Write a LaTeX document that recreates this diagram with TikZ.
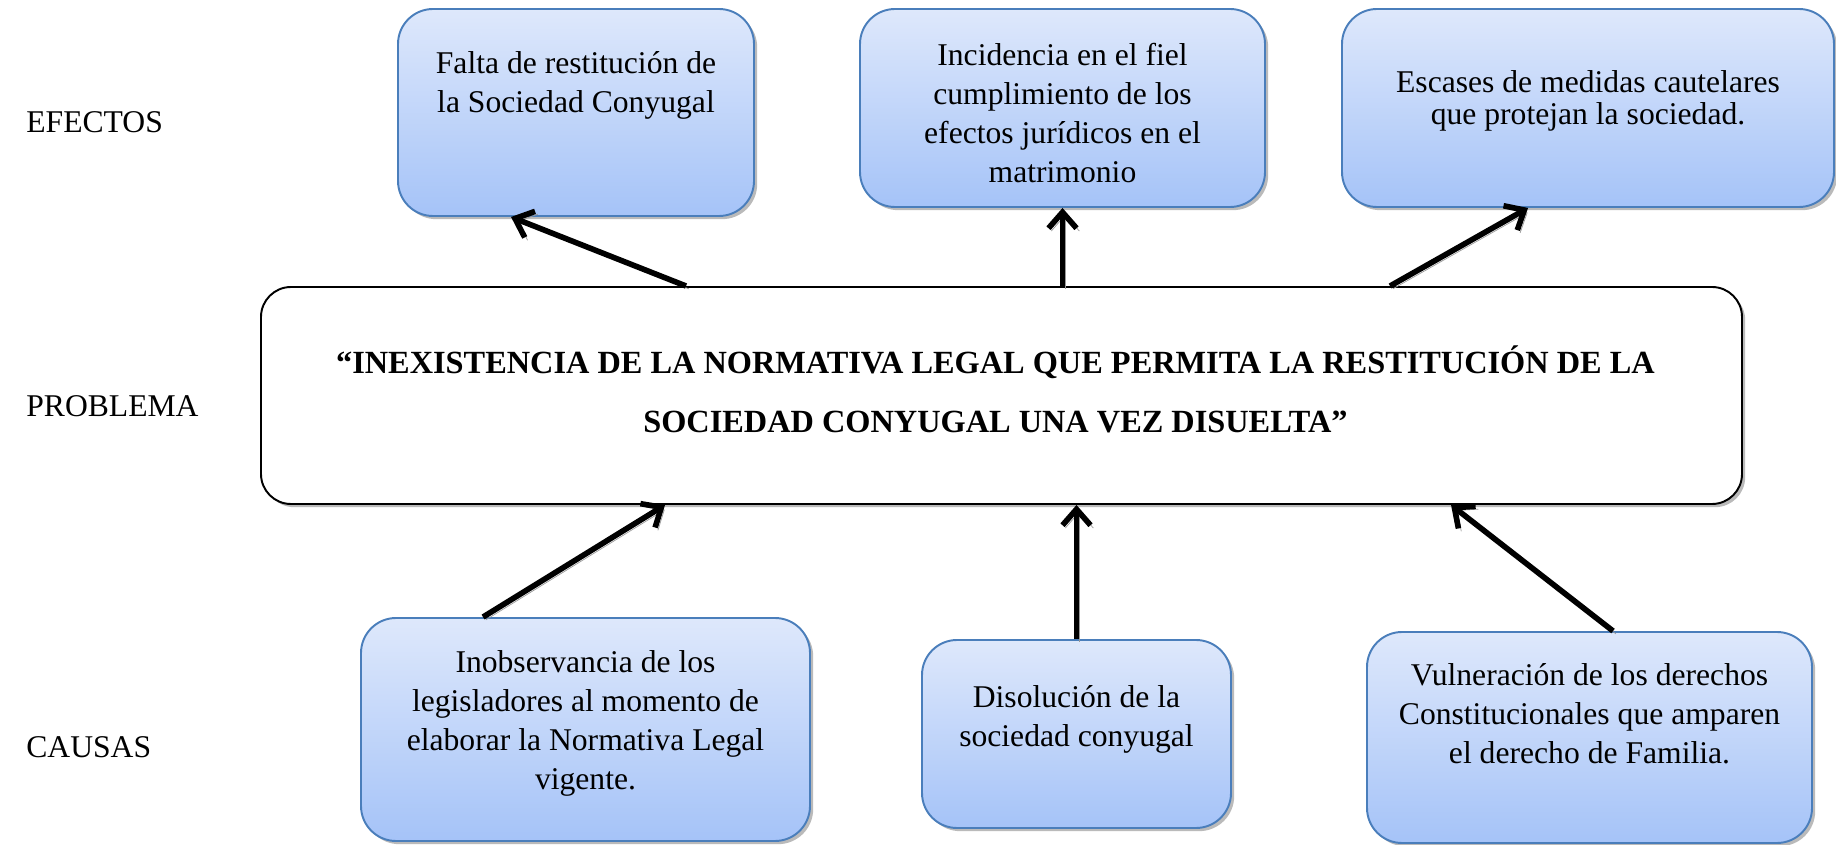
\documentclass[tikz,border=0pt]{standalone}
\usepackage{fontspec}
\setmainfont{Liberation Serif}
\usepackage{tikz}
\usetikzlibrary{arrows.meta, shadows, positioning}

\definecolor{azulclaro}{RGB}{222,232,251}
\definecolor{azulfondo}{RGB}{165,195,248}
\definecolor{azulborde}{RGB}{74,126,187}

\begin{document}
\begin{tikzpicture}[
    caja/.style={draw=azulborde, line width=1.1pt, rounded corners=0.7cm,
      top color=azulclaro, bottom color=azulfondo, inner sep=0pt,
      drop shadow={shadow xshift=1.8pt, shadow yshift=-1.8pt, fill=black!45, opacity=0.6}},
    texto/.style={align=center, inner sep=0pt, font=\fontsize{18pt}{22.2pt}\selectfont},
    rotulo/.style={anchor=base west, inner sep=0pt, font=\fontsize{18pt}{21.9pt}\selectfont},
    flecha/.style={line width=3.2pt, -{Straight Barb[length=0.32cm, width=0.56cm]},
      preaction={draw=black!40, transform canvas={xshift=1.6pt, yshift=-1.6pt}}}
  ]
  \useasboundingbox (0, 0) rectangle (36.72, -16.9);

  % rotulos
  \node[rotulo] (refe) at (0.52, -2.66) {EFECTOS};
  \node[rotulo] (rpro) at (0.52, -8.34) {PROBLEMA};
  \node[rotulo] (rcau) at (0.52, -15.14) {CAUSAS};

  % efectos
  \node[caja, minimum width=7.12cm, minimum height=4.14cm] (ef1) at (11.52, -2.25) {};
  \node[caja, minimum width=8.1cm, minimum height=3.96cm] (ef2) at (21.25, -2.16) {};
  \node[caja, minimum width=9.84cm, minimum height=3.96cm] (ef3) at (31.76, -2.16) {};
  \node[texto] (ef1t) at ([yshift=-1.54cm]ef1.north) {Falta de restitución de\\la Sociedad Conyugal};
  \node[texto] (ef2t) at ([yshift=-2.1cm]ef2.north) {Incidencia en el fiel\\cumplimiento de los\\efectos jurídicos en el\\matrimonio};
  \node[texto, font=\fontsize{18pt}{18pt}\selectfont] (ef3t) at ([yshift=-1.86cm]ef3.north) {Escases de medidas cautelares\\que protejan la sociedad.};

  % problema
  \node[draw, line width=1.1pt, fill=white, rounded corners=0.6cm,
    minimum width=29.62cm, minimum height=4.34cm,
    drop shadow={shadow xshift=1.8pt, shadow yshift=-1.8pt, fill=black!45, opacity=0.6}] (prob) at (20.03, -7.91) {};
  \node[align=center, inner sep=0pt, font=\fontsize{18.4pt}{33.6pt}\selectfont\bfseries] (probt) at ([xshift=-0.12cm, yshift=0.13cm]prob.center)
    {“INEXISTENCIA DE LA NORMATIVA LEGAL QUE PERMITA LA RESTITUCIÓN DE LA\\SOCIEDAD CONYUGAL UNA VEZ DISUELTA”};

  % causas
  \node[caja, minimum width=8.98cm, minimum height=4.46cm] (ca1) at (11.71, -14.59) {};
  \node[caja, minimum width=6.18cm, minimum height=3.76cm] (ca2) at (21.53, -14.68) {};
  \node[caja, minimum width=8.9cm, minimum height=4.22cm] (ca3) at (31.79, -14.75) {};
  \node[texto] (ca1t) at ([yshift=-2.13cm]ca1.north) {Inobservancia de los\\legisladores al momento de\\elaborar la Normativa Legal\\vigente.};
  \node[texto] (ca2t) at ([yshift=-1.61cm]ca2.north) {Disolución de la\\sociedad conyugal};
  \node[texto] (ca3t) at ([yshift=-1.66cm]ca3.north) {Vulneración de los derechos\\Constitucionales que amparen\\el derecho de Familia.};

  % flechas problema --> efectos
  \draw[flecha] ([xshift=8.52cm]prob.north west) -- ([xshift=2.28cm]ef1.south west);
  \draw[flecha] (prob.north -| ef2.south) -- (ef2.south);
  \draw[flecha] ([xshift=22.6cm]prob.north west) -- ([xshift=3.74cm]ef3.south west);

  % flechas causas --> problema
  \draw[flecha] ([xshift=2.46cm]ca1.north west) -- ([xshift=8.1cm]prob.south west);
  \draw[flecha] (ca2.north) -- (ca2.north |- prob.south);
  \draw[flecha] ([xshift=4.94cm]ca3.north west) -- ([xshift=23.82cm]prob.south west);
\end{tikzpicture}
\end{document}
